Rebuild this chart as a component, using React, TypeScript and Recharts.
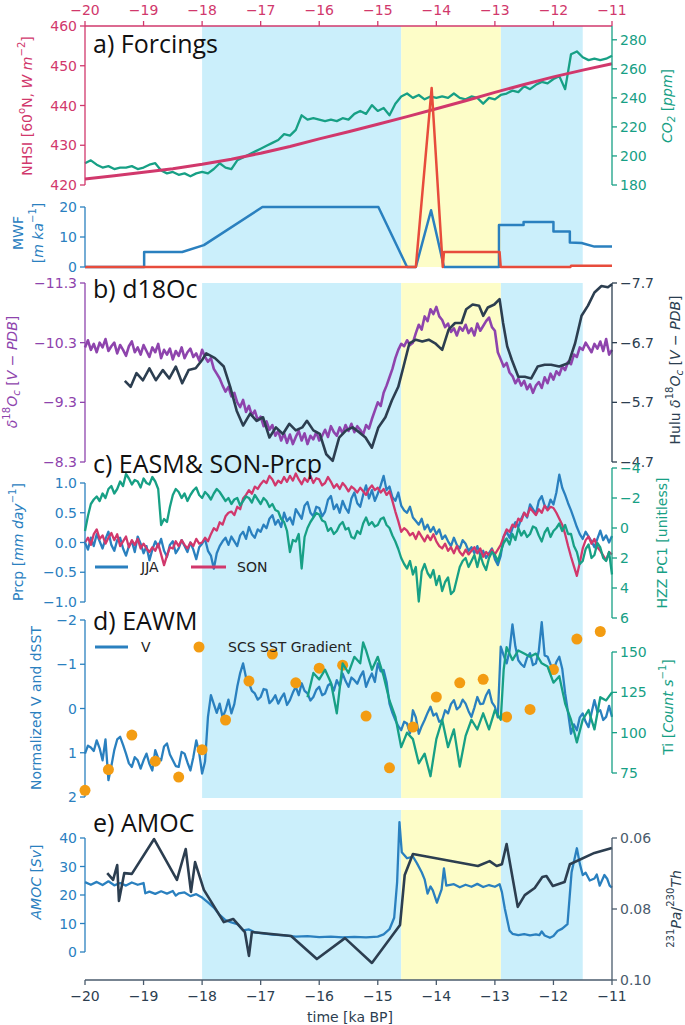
import React from 'react';
import { ComposedChart, Line, Scatter, XAxis, YAxis, ReferenceArea } from 'recharts';

const W = 685;
const PL = 85; // plot starts here
const PR = 73; // room right of the plot
const FONT = '"DejaVu Sans", sans-serif';
const TITLE_FONT = '"Open Sans", sans-serif';

const C = {
  crimson: '#d1386c',
  green: '#17a085',
  blue: '#2a80bf',
  red: '#e74c3c',
  purple: '#8e44ad',
  dark: '#2c3e50',
  orange: '#f39c12',
  blueBg: '#cbeffb',
  yellowBg: '#fdfdc8',
};

// ---- shading (ka BP) ----
const blueSpans = [[-18.0, -14.6], [-12.9, -11.5]];
const yellowSpans = [[-14.6, -12.9]];

// ---- ticks ----
const xTicks = [-20, -19, -18, -17, -16, -15, -14, -13, -12, -11];
const nhsiTicks = [420, 430, 440, 450, 460];
const co2Ticks = [180, 200, 220, 240, 260, 280];
const mwfTicks = [0, 10, 20];
const d18Ticks = [-11.3, -10.3, -9.3, -8.3];
const huluTicks = [-7.7, -6.7, -5.7, -4.7];
const prcpTicks = [-1, -0.5, 0, 0.5, 1];
const hzzTicks = [-4, -2, 0, 2, 4, 6];
const vTicks = [-2, -1, 0, 1, 2];
const tiTicks = [75, 100, 125, 150];
const amocTicks = [0, 10, 20, 30, 40];
const paTicks = [0.06, 0.08, 0.1];

// model output grids
const T91 = Array.from({ length: 91 }, (_, i) => (-200 + i) / 10);
const T181 = Array.from({ length: 181 }, (_, i) => (-400 + i) / 20);

// ---- a) forcings ----
const nhsiT = [-20, -19.5, -19, -18.5, -18, -17.5, -17, -16.5, -16, -15.5, -15, -14.5, -14, -13.5, -13, -12.5, -12, -11.5, -11];
const nhsiV = [421.5, 422.3, 423.2, 424.1, 425.2, 426.5, 428.0, 429.7, 431.6, 433.4, 435.3, 437.2, 439.2, 441.2, 443.3, 445.3, 447.2, 448.9, 450.5];

const co2V = [
  195, 197, 194, 192, 193, 191, 192, 192, 193, 191,
  192, 194, 195, 190, 188, 189, 187, 188, 186, 188,
  189, 188, 191, 195, 192, 191, 197, 199, 201, 203,
  205, 207, 209, 211, 215, 214, 218, 228, 225, 226,
  225, 224, 225, 224, 226, 225, 229, 231, 229, 235,
  231, 233, 228, 236, 241, 243, 240, 242, 239, 241,
  240, 241, 240, 243, 240, 239, 241, 240, 236, 240,
  239, 242, 243, 245, 244, 248, 246, 249, 251, 250,
  253, 255, 246, 270, 272, 268, 266, 267, 266, 267,
  269,
];

const mwfT = [-20, -18.99, -18.99, -18.34, -17.97, -16.97, -14.99, -14.5, -14.35, -14.09, -13.98, -13.87, -12.93, -12.93, -12.51, -12.51, -12.0, -12.0, -11.72, -11.72, -11.52, -11.3, -11.0];
const mwfV = [0, 0, 5, 5, 7.3, 20, 20, 0, 0, 18.9, 9.5, 0, 0, 14, 14, 15, 15, 11.8, 11.8, 8.2, 8, 6.8, 6.8];
const otherFwT = [-20, -14.35, -14.08, -13.89, -13.87, -12.92, -12.9, -11.71, -11.7, -11.0];
const otherFwV = [0, 0, 59.7, 0, 5, 5, 0, 0, 0.4, 0.4];

// ---- b) d18Oc (0.05 ka) ----
const d18V = [
  -10.22, -10.34, -10.18, -10.28, -10.14, -10.3, -10.22, -10.36, -10.16, -10.24,
  -10.3, -10.12, -10.26, -10.18, -10.08, -10.24, -10.32, -10.14, -10.22, -10.1,
  -10.26, -10.16, -10.06, -10.22, -10.14, -10.28, -10.04, -10.18, -10.1, -10.2,
  -10.02, -10.16, -10.08, -10.22, -10.04, -10.14, -10.2, -10.06, -10.12, -10.0,
  -10.18, -10.06, -9.98, -10.04, -9.86, -9.78, -9.7, -9.58, -9.48, -9.56,
  -9.4, -9.46, -9.3, -9.22, -9.34, -9.14, -9.24, -9.08, -9.16, -9.0,
  -9.06, -8.9, -8.98, -8.84, -8.92, -8.74, -8.82, -8.66, -8.78, -8.62,
  -8.76, -8.6, -8.72, -8.82, -8.66, -8.78, -8.6, -8.74, -8.68, -8.8,
  -8.66, -8.74, -8.84, -8.72, -8.9, -8.8, -8.74, -8.88, -8.78, -8.92,
  -8.82, -8.94, -8.8, -8.9, -8.84, -8.76, -8.92, -8.86, -9.02, -9.16,
  -9.3, -9.24, -9.46, -9.58, -9.72, -9.86, -10.04, -10.18, -10.28, -10.24,
  -10.34, -10.26, -10.3, -10.46, -10.6, -10.52, -10.74, -10.66, -10.86, -10.78,
  -10.9, -10.74, -10.68, -10.56, -10.62, -10.48, -10.54, -10.42, -10.56, -10.5,
  -10.6, -10.46, -10.54, -10.42, -10.62, -10.5, -10.58, -10.66, -10.72, -10.56,
  -10.5, -10.14, -10.02, -9.9, -9.96, -9.8, -9.74, -9.62, -9.7, -9.58,
  -9.66, -9.52, -9.6, -9.46, -9.58, -9.64, -9.54, -9.72, -9.62, -9.78,
  -9.68, -9.82, -9.76, -9.9, -9.84, -9.98, -9.94, -10.1, -10.06, -10.22,
  -10.18, -10.3, -10.22, -10.14, -10.28, -10.2, -10.32, -10.16, -10.36, -10.1,
  -10.18,
];

const huluT = [
  -19.32, -19.22, -19.12, -19.01, -18.9, -18.79, -18.67, -18.56, -18.45, -18.34,
  -18.23, -18.11, -18.0, -17.93, -17.78, -17.63, -17.52, -17.41, -17.3, -17.18,
  -17.07, -16.96, -16.85, -16.74, -16.62, -16.51, -16.4, -16.29, -16.21, -16.1,
  -15.99, -15.88, -15.77, -15.66, -15.54, -15.43, -15.32, -15.21, -15.1, -14.99,
  -14.87, -14.76, -14.65, -14.56, -14.46, -14.35, -14.24, -14.13, -14.02, -13.9,
  -13.79, -13.68, -13.57, -13.49, -13.38, -13.27, -13.2, -13.12, -13.01, -12.92,
  -12.86, -12.79, -12.71, -12.6, -12.49, -12.38, -12.27, -12.15, -12.04, -11.9,
  -11.74, -11.63, -11.52, -11.41, -11.3, -11.18, -11.07, -11.0,
];
const huluV = [
  -6.06, -5.96, -6.19, -6.07, -6.27, -6.07, -6.24, -6.1, -6.3, -6.02,
  -6.24, -6.27, -6.41, -6.52, -6.44, -6.3, -5.96, -5.56, -5.31, -5.51,
  -5.39, -5.45, -5.11, -5.28, -5.17, -5.34, -5.23, -5.28, -5.39, -5.23,
  -5.17, -4.83, -4.72, -5.11, -5.23, -5.28, -5.2, -5.11, -4.94, -5.28,
  -5.45, -5.73, -5.96, -6.3, -6.69, -6.75, -6.72, -6.75, -6.69, -6.58,
  -6.92, -7.03, -7.03, -7.26, -7.34, -7.32, -7.15, -7.29, -7.34, -7.43,
  -7.03, -6.64, -6.41, -6.13, -6.13, -6.1, -6.3, -6.33, -6.33, -6.3,
  -6.36, -6.69, -7.15, -7.32, -7.54, -7.65, -7.63, -7.68,
];

// ---- c) EASM & SON precipitation (0.05 ka) ----
const jjaV = [
  0.0, -0.12, 0.08, -0.06, 0.14, 0.02, -0.1, 0.06, 0.18, -0.04,
  -0.14, 0.04, 0.08, -0.1, -0.22, -0.06, 0.02, -0.16, 0.1, -0.02,
  -0.18, -0.06, -0.3, -0.12, 0.02, -0.08, 0.06, -0.14, -0.24, -0.04,
  0.02, -0.18, -0.1, 0.04, -0.06, -0.16, 0.0, -0.12, -0.28, -0.08,
  -0.02, 0.06, -0.14, -0.22, -0.44, -0.18, -0.06, 0.02, 0.08, -0.04,
  0.1, 0.02, -0.06, 0.12, 0.18, 0.06, 0.26, 0.14, 0.08, 0.22,
  0.18, 0.3, 0.24, 0.4, 0.46, 0.3, 0.38, 0.26, 0.5, 0.36,
  0.42, 0.3, 0.56, 0.48, 0.4, 0.62, 0.68, 0.5, 0.44, 0.6,
  0.58, 0.44, 0.52, 0.72, 0.78, 0.56, 0.64, 0.5, 0.7, 0.58,
  0.5, 0.74, 0.84, 0.66, 0.6, 0.8, 0.96, 0.74, 0.88, 0.7,
  0.82, 0.96, 1.12, 0.88, 0.94, 0.76, 0.7, 0.84, 0.62, 0.54,
  0.5, 0.6, 0.42, 0.36, 0.3, 0.4, 0.22, 0.3, 0.18, 0.26,
  0.14, 0.22, 0.06, 0.12, 0.02, -0.06, 0.08, -0.04, -0.1, 0.04,
  -0.02, -0.14, -0.08, -0.18, -0.06, -0.22, -0.14, -0.26, -0.18, -0.1,
  -0.28, -0.38, -0.22, 0.1, 0.18, 0.08, 0.24, 0.34, 0.26, 0.4,
  0.5, 0.42, 0.64, 0.56, 0.48, 0.7, 0.78, 0.62, 0.56, 0.72,
  0.64, 0.84, 1.14, 0.92, 0.8, 0.66, 0.54, 0.4, 0.26, 0.14,
  0.06, 0.18, 0.1, 0.02, -0.08, 0.06, 0.2, 0.04, 0.12, 0.0,
  0.11,
];
const sonV = [
  0.0, 0.08, -0.04, 0.14, 0.22, 0.06, 0.12, -0.02, 0.08, 0.16,
  0.04, 0.14, -0.06, 0.02, 0.1, -0.08, 0.04, -0.04, 0.06, -0.1,
  -0.02, -0.1, -0.16, -0.08, -0.14, -0.02, -0.2, -0.38, -0.22, -0.08,
  -0.1, 0.02, -0.06, 0.04, -0.04, -0.1, 0.0, -0.06, 0.06, -0.02,
  0.0, 0.08, 0.02, 0.14, 0.24, 0.2, 0.34, 0.3, 0.44, 0.5,
  0.52, 0.46, 0.6, 0.56, 0.74, 0.8, 0.88, 0.82, 0.94, 0.9,
  0.98, 1.04, 1.0, 1.12, 1.06, 0.96, 1.04, 1.0, 1.1, 1.02,
  1.12, 1.04, 1.16, 1.06, 0.98, 1.08, 1.02, 1.12, 1.0, 1.08,
  1.06, 0.96, 1.0, 1.1, 1.02, 0.92, 0.98, 0.9, 1.0, 0.94,
  0.86, 0.94, 0.9, 0.84, 0.92, 0.86, 0.8, 0.9, 0.96, 0.88,
  0.92, 0.84, 0.9, 0.8, 0.86, 0.7, 0.52, 0.36, 0.18, 0.24,
  0.2, 0.12, 0.16, 0.06, 0.18, 0.1, 0.02, 0.12, 0.04, 0.14,
  0.02, -0.06, -0.1, -0.02, -0.14, -0.08, -0.18, -0.06, -0.16, -0.22,
  -0.12, -0.2, -0.14, -0.08, -0.18, -0.1, -0.24, -0.16, -0.22, -0.12,
  -0.2, -0.12, -0.04, 0.1, 0.22, 0.18, 0.3, 0.26, 0.4, 0.36,
  0.5, 0.44, 0.58, 0.52, 0.46, 0.56, 0.5, 0.62, 0.54, 0.6,
  0.58, 0.5, 0.4, 0.3, 0.14, -0.06, -0.24, -0.4, -0.56, -0.34,
  -0.1, 0.04, 0.1, -0.02, 0.06, -0.08, -0.14, -0.22, -0.3, -0.16,
  -0.2,
];
const hzzV = [
  0.2, -0.8, -1.6, -1.9, -2.1, -1.8, -2.3, -2.0, -2.6, -2.8,
  -2.3, -2.6, -3.1, -2.8, -3.6, -3.3, -2.9, -3.2, -3.1, -2.7,
  -3.3, -3.0, -2.9, -3.4, -3.1, -2.6, -0.2, -0.6, -0.4, -1.4,
  -2.2, -2.6, -2.4, -2.0, -2.3, -1.8, -2.2, -2.5, -2.7, -2.2,
  -2.0, -2.4, -2.2, -1.9, -2.3, -2.6, -2.4, -2.1, -1.8, -2.0,
  -1.6, -1.9, -2.0, -1.5, -1.8, -2.1, -2.0, -1.7, -2.2, -1.9,
  -1.6, -2.0, -1.8, -1.4, -1.6, -1.2, -1.1, -0.6, -0.4, 0.2,
  1.6, 0.8, 0.9, 0.4, 2.7, 0.6, 0.0, -0.4, -0.7, -1.0,
  -0.9, -0.5, -0.4, 0.2, 0.0, 0.4, 0.2, -0.2, -0.4, 0.1,
  0.0, 0.6, 0.7, 0.2, 0.4, -0.3, -0.7, -0.2, -0.4, -0.1,
  -0.2, -0.6, -0.7, -0.2, 0.0, 0.5, 0.9, 1.4, 2.0, 2.4,
  2.7, 2.2, 3.1, 2.6, 4.9, 2.9, 2.4, 3.0, 3.3, 2.8,
  3.8, 3.2, 4.2, 3.6, 3.3, 4.4, 4.2, 3.4, 2.6, 2.2,
  2.0, 2.6, 2.2, 1.8, 2.6, 1.8, 2.4, 2.8, 2.0, 1.6,
  1.8, 2.2, 1.6, 1.0, 0.7, 1.1, 0.4, 0.8, 0.0, 0.5,
  0.2, 0.6, 0.4, -0.1, 0.0, 0.5, 0.9, 0.3, 0.0, 0.6,
  0.2, 0.0, -0.3, 0.2, -0.2, 0.4, 0.4, 1.2, 1.6, 2.4,
  2.2, 1.4, 1.1, 2.0, 1.8, 1.0, 1.3, 2.0, 2.2, 1.6,
  3.1,
];

// ---- d) EAWM ----
const vV = [
  1.02, 0.84, 0.88, 0.96, 0.72, 0.9, 1.17, 0.7, 1.62, 1.3,
  0.94, 0.7, 0.64, 0.82, 1.02, 1.24, 1.32, 1.1, 1.17, 1.36,
  1.17, 1.02, 1.25, 1.4, 0.94, 1.12, 1.17, 0.86, 0.79, 1.04,
  1.17, 1.3, 1.32, 0.98, 1.02, 1.22, 1.4, 1.1, 0.72, 1.0,
  1.47, 1.2, 0.19, -0.3, -0.1, 0.1, -0.11, 0.2, 0.04, -0.2,
  0.11, -0.1, -0.49, -0.8, -1.02, -0.7, -0.57, -0.4, -0.34, -0.2,
  -0.26, -0.44, -0.42, -0.12, -0.19, -0.3, -0.11, -0.24, -0.34, -0.08,
  -0.19, -0.36, -0.49, -0.3, -0.57, -0.4, -0.34, -0.18, -0.26, -0.42,
  -0.49, -0.3, -0.34, -0.52, -0.57, -0.4, -0.64, -0.5, -0.79, -0.62,
  -0.49, -0.7, -0.64, -0.56, -0.72, -0.84, -0.49, -0.66, -0.79, -0.6,
  -1.02, -0.84, -0.87, -0.6, -0.11, 0.1, 0.26, 0.4, 0.49, 0.3,
  0.34, 0.56, 0.04, 0.2, 0.57, 0.4, 0.26, 0.1, -0.04, 0.16,
  0.11, 0.3, 0.26, 0.04, 0.11, -0.1, -0.19, 0.02, -0.04, -0.2,
  -0.11, 0.06, 0.19, -0.02, -0.26, -0.1, -0.11, -0.3, -0.42, -0.14,
  -0.04, 0.2, -1.4, -1.2, -1.02, -1.3, -1.9, -1.4, -1.09, -1.0,
  -0.94, -1.15, -1.25, -0.98, -1.02, -1.3, -1.95, -1.2, -1.17, -1.0,
  -0.87, -1.05, -1.17, -0.9, -0.34, 0.1, 0.57, 0.36, 0.49, 0.2,
  0.11, 0.3, 0.42, 0.1, -0.19, 0.08, 0.04, 0.26, 0.19, -0.06,
  0.19,
];
const tiT = [
  -16.2, -16.1, -16.0, -15.9, -15.8, -15.7, -15.6, -15.5, -15.4, -15.3,
  -15.25, -15.2, -15.1, -15.0, -14.9, -14.8, -14.7, -14.6, -14.5, -14.4,
  -14.3, -14.2, -14.1, -14.0, -13.9, -13.8, -13.7, -13.6, -13.5, -13.4,
  -13.3, -13.2, -13.1, -13.0, -12.9, -12.85, -12.8, -12.7, -12.6, -12.5,
  -12.4, -12.3, -12.2, -12.1, -12.0, -11.9, -11.8, -11.7, -11.6, -11.5,
  -11.4, -11.3, -11.2, -11.1, -11.0,
];
const tiV = [
  122, 137, 133, 139, 131, 112, 143, 137, 147, 143,
  156, 151, 139, 147, 135, 120, 110, 91, 100, 96,
  81, 87, 73, 96, 108, 91, 102, 79, 98, 108,
  102, 112, 102, 114, 108, 139, 153, 145, 151, 149,
  147, 149, 143, 141, 131, 135, 118, 108, 94, 108,
  114, 102, 122, 120, 125,
];
const sstT = [-20, -19.6, -19.2, -18.8, -18.4, -18.0, -17.6, -17.2, -16.8, -16.4, -16.0, -15.6, -15.2, -14.8, -14.4, -14.0, -13.6, -13.2, -12.8, -12.4, -12.0, -11.6, -11.2];
const sstV = [1.85, 1.38, 0.6, 1.19, 1.55, 0.93, 0.26, -0.62, -1.23, -0.58, -0.91, -0.98, 0.17, 1.34, 0.42, -0.26, -0.58, -0.66, 0.19, 0.02, -0.88, -1.57, -1.74];

// ---- e) AMOC ----
const amocT = [
  -20.0, -19.9, -19.8, -19.7, -19.6, -19.5, -19.4, -19.3, -19.2, -19.1,
  -19.0, -18.97, -18.9, -18.8, -18.7, -18.6, -18.5, -18.45, -18.4, -18.3,
  -18.2, -18.1, -18.0, -17.9, -17.8, -17.7, -17.6, -17.5, -17.4, -17.3,
  -17.2, -17.1, -17.0, -16.8, -16.6, -16.4, -16.2, -16.0, -15.8, -15.6,
  -15.4, -15.2, -15.0, -14.9, -14.8, -14.72, -14.67, -14.63, -14.59, -14.5,
  -14.4, -14.33, -14.25, -14.2, -14.15, -14.1, -14.06, -13.99, -13.91, -13.87,
  -13.83, -13.7, -13.6, -13.5, -13.4, -13.3, -13.2, -13.1, -13.0, -12.92,
  -12.88, -12.83, -12.75, -12.7, -12.6, -12.5, -12.4, -12.3, -12.24, -12.2,
  -12.15, -12.06, -12.0, -11.93, -11.85, -11.76, -11.69, -11.6, -11.55, -11.5,
  -11.45, -11.38, -11.3, -11.26, -11.21, -11.13, -11.08, -11.04, -11.0,
];
const amocV = [
  24.5, 23.6, 24.6, 23.5, 24.8, 23.4, 24.2, 23.3, 24.4, 23.6,
  24.2, 20.6, 21.2, 20.4, 21.3, 20.5, 21.4, 19.8, 20.6, 20.9,
  19.6, 20.3, 19.1, 17.4, 15.6, 13.0, 11.2, 10.4, 9.8, 7.6,
  7.9, 6.9, 6.6, 6.1, 5.8, 5.4, 5.6, 5.2, 5.4, 5.1,
  5.3, 5.1, 5.4, 6.2, 8.0, 12.0, 24.4, 45.6, 35.0, 32.9,
  33.5, 31.1, 28.0, 25.5, 20.5, 23.0, 21.6, 17.3, 22.0, 29.3,
  23.3, 23.8, 22.7, 23.6, 22.9, 23.9, 22.8, 23.5, 22.9, 23.8,
  21.0, 15.2, 7.5, 6.4, 5.9, 6.3, 5.8, 6.2, 5.9, 7.2,
  5.8, 5.0, 5.6, 7.4, 8.2, 9.8, 28.0, 36.4, 31.0, 27.0,
  27.8, 25.1, 25.8, 27.2, 23.3, 27.0, 25.6, 23.3, 22.6,
];
const paT = [
  -19.62, -19.52, -19.45, -19.42, -19.33, -19.2, -18.82, -18.43, -18.28, -18.19,
  -18.12, -17.97, -17.63, -17.47, -17.27, -17.2, -17.15, -16.48, -16.04, -15.56,
  -15.1, -14.62, -14.54, -14.4, -13.29, -13.09, -12.97, -12.88, -12.8, -12.61,
  -12.49, -12.32, -12.19, -12.12, -12.01, -11.81, -11.72, -11.3, -11.0,
];
const paV = [
  0.0699, 0.0718, 0.0676, 0.0777, 0.0699, 0.0701, 0.0603, 0.0718, 0.0631, 0.0752,
  0.0668, 0.0746, 0.0837, 0.0828, 0.0865, 0.0932, 0.0865, 0.0876, 0.0941, 0.0882,
  0.0952, 0.0845, 0.0704, 0.0645, 0.0679, 0.0665, 0.0679, 0.0674, 0.0617, 0.0794,
  0.0761, 0.0741, 0.071, 0.0707, 0.0735, 0.0724, 0.0674, 0.0642, 0.0628,
];

const zip = (ts: number[], vs: number[]) => ts.map((t, i) => ({ t, v: vs[i] }));

const nhsi = zip(nhsiT, nhsiV);
const co2 = zip(T91, co2V);
const mwf = zip(mwfT, mwfV);
const otherFw = zip(otherFwT, otherFwV);
const d18 = zip(T181, d18V);
const hulu = zip(huluT, huluV);
const jja = zip(T181, jjaV);
const son = zip(T181, sonV);
const hzz = zip(T181, hzzV);
const vIdx = zip(T181, vV);
const ti = zip(tiT, tiV);
const sst = zip(sstT, sstV);
const amoc = zip(amocT, amocV);
const pa = zip(paT, paV);

const minus = (s: string) => s.replace('-', '\u2212');
const fInt = (v: number) => minus(String(v));
const f1 = (v: number) => minus(v.toFixed(1));
const f2 = (v: number) => minus(v.toFixed(2));

function Tick(props: any) {
  const { x, y, payload, textAnchor, clr, fmt, pos } = props;
  const dy = pos === 'bottom' ? '0.76em' : pos === 'top' ? '0' : '0.36em';
  return (
    <text x={x} y={y} dy={dy} textAnchor={textAnchor} fill={clr} fontSize={14} fontFamily={FONT}>
      {fmt(payload.value)}
    </text>
  );
}

function Layer({ top, bottom, left, right, xTop = 0, xBot = 0, children }: any) {
  const h = bottom - top + xTop + xBot;
  return (
    <div style={{ position: 'absolute', left: 0, top: top - xTop }}>
      <ComposedChart
        width={W}
        height={h}
        margin={{ top: 0, bottom: 0, left: left ? 0 : PL, right: right ? 0 : PR }}
      >
        {children}
      </ComposedChart>
    </div>
  );
}

const hiddenX = <XAxis type="number" dataKey="t" domain={[-20, -11]} allowDataOverflow hide />;
const hiddenY = <YAxis yAxisId="h" type="number" domain={[0, 1]} allowDataOverflow hide />;

function yAx(id: string, side: 'left' | 'right', clr: string, domain: number[], ticks: number[], fmt: (v: number) => string, reversed = false) {
  return (
    <YAxis
      yAxisId={id}
      orientation={side}
      type="number"
      domain={domain}
      allowDataOverflow
      reversed={reversed}
      ticks={ticks}
      interval={0}
      width={side === 'left' ? PL : PR}
      stroke={clr}
      axisLine={{ stroke: clr, strokeWidth: 1.3 }}
      tickLine={{ stroke: clr, strokeWidth: 1.3 }}
      tickSize={5}
      tickMargin={3}
      tick={<Tick clr={clr} fmt={fmt} pos="side" />}
    />
  );
}

function shading() {
  return [
    ...blueSpans.map(([a, b], i) => (
      <ReferenceArea key={'b' + i} yAxisId="h" x1={a} x2={b} fill={C.blueBg} fillOpacity={1} stroke="none" />
    )),
    ...yellowSpans.map(([a, b], i) => (
      <ReferenceArea key={'y' + i} yAxisId="h" x1={a} x2={b} fill={C.yellowBg} fillOpacity={1} stroke="none" />
    )),
  ];
}

function line(data: any[], id: string, clr: string, w = 2.3) {
  return (
    <Line
      data={data}
      dataKey="v"
      yAxisId={id}
      type="linear"
      stroke={clr}
      strokeWidth={w}
      dot={false}
      activeDot={false}
      isAnimationActive={false}
      strokeLinejoin="round"
    />
  );
}

type Seg = { s: string; it?: boolean; up?: boolean; dn?: boolean };

function Rich({ segs, size }: { segs: Seg[]; size: number }) {
  let cur = 0;
  return (
    <>
      {segs.map((g, i) => {
        const target = g.up ? -size * 0.4 : g.dn ? size * 0.25 : 0;
        const dy = target - cur;
        cur = target;
        return (
          <tspan key={i} dy={dy} fontStyle={g.it ? 'italic' : undefined} fontSize={g.up || g.dn ? size * 0.72 : size}>
            {g.s}
          </tspan>
        );
      })}
    </>
  );
}

function VLabel({ x, y, clr, segs, size = 14 }: { x: number; y: number; clr: string; segs: Seg[]; size?: number }) {
  return (
    <text
      transform={`translate(${x},${y}) rotate(-90)`}
      textAnchor="middle"
      dominantBaseline="central"
      fill={clr}
      fontFamily={FONT}
      fontSize={size}
      style={{ whiteSpace: 'pre' }}
    >
      <Rich segs={segs} size={size} />
    </text>
  );
}

function Title({ y, children }: any) {
  return (
    <text x={93} y={y} fontFamily={TITLE_FONT} fontSize={25} fill="#111">
      {children}
    </text>
  );
}

function Overlay() {
  const d18Label: Seg[] = [{ s: 'δ', it: true }, { s: '18', up: true }, { s: 'O', it: true }, { s: 'c', it: true, dn: true }, { s: ' [' }, { s: 'V − PDB', it: true }, { s: ']' }];
  return (
    <svg width={W} height={1025} style={{ position: 'absolute', left: 0, top: 0, pointerEvents: 'none' }}>
      <Title y={53}>a) Forcings</Title>
      <Title y={298}>b) d18Oc</Title>
      <Title y={473}>c) EASM&amp; SON-Prcp</Title>
      <Title y={630}>d) EAWM</Title>
      <Title y={832}>e) AMOC</Title>

      <VLabel x={27} y={106} clr={C.crimson} segs={[{ s: 'NHSI [60' }, { s: 'o', up: true }, { s: 'N, ' }, { s: 'W m', it: true }, { s: '−2', up: true }, { s: ']' }]} />
      <VLabel x={667} y={106} clr={C.green} segs={[{ s: 'CO', it: true }, { s: '2', it: true, dn: true }, { s: ' [' }, { s: 'ppm', it: true }, { s: ']' }]} />
      <VLabel x={18} y={233} clr={C.blue} segs={[{ s: 'MWF' }]} />
      <VLabel x={38} y={233} clr={C.blue} segs={[{ s: '[' }, { s: 'm ka', it: true }, { s: '−1', up: true }, { s: ']' }]} />
      <VLabel x={12} y={372} clr={C.purple} segs={d18Label} />
      <VLabel x={675} y={370} clr={C.dark} segs={[{ s: 'Hulu ' }, ...d18Label]} />
      <VLabel x={18} y={542} clr={C.blue} segs={[{ s: 'Prcp [' }, { s: 'mm day', it: true }, { s: '−1', up: true }, { s: ']' }]} />
      <VLabel x={662} y={543} clr={C.green} segs={[{ s: 'HZZ PC1 [unitless]' }]} />
      <VLabel x={36} y={708} clr={C.blue} segs={[{ s: 'Normalized V and dSST' }]} />
      <VLabel x={668} y={707} clr={C.green} segs={[{ s: 'Ti [' }, { s: 'Count s', it: true }, { s: '−1', up: true }, { s: ']' }]} />
      <VLabel x={36} y={882} clr={C.blue} segs={[{ s: 'AMOC', it: true }, { s: ' [' }, { s: 'Sv', it: true }, { s: ']' }]} />
      <VLabel x={676} y={909} clr={C.dark} segs={[{ s: '231', up: true }, { s: 'Pa', it: true }, { s: '/' }, { s: '230', up: true }, { s: 'Th', it: true }]} />
      <text x={350} y={1022} textAnchor="middle" fill={C.dark} fontFamily={FONT} fontSize={14}>
        time [ka BP]
      </text>

      {/* legend c */}
      <line x1={95} x2={128} y1={567} y2={567} stroke={C.blue} strokeWidth={3} />
      <text x={141} y={572} fontFamily={FONT} fontSize={14} fill="#222">JJA</text>
      <line x1={191} x2={226} y1={567} y2={567} stroke={C.crimson} strokeWidth={3} />
      <text x={237} y={572} fontFamily={FONT} fontSize={14} fill="#222">SON</text>

      {/* legend d */}
      <line x1={95} x2={128} y1={647} y2={647} stroke={C.blue} strokeWidth={3} />
      <text x={141} y={652} fontFamily={FONT} fontSize={14} fill="#222">V</text>
      <circle cx={199} cy={647} r={5.5} fill={C.orange} />
      <text x={228} y={652} fontFamily={FONT} fontSize={14} fill="#222">SCS SST Gradient</text>
    </svg>
  );
}

export default function App() {
  return (
    <div style={{ position: 'absolute', left: 0, top: 0, width: W, height: 1025, background: '#fff', overflow: 'hidden' }}>
      <style>{`.recharts-wrapper [clip-path]{clip-path:none !important}.recharts-surface{overflow:visible}`}</style>

      {/* shading behind a) and MWF */}
      <Layer top={26} bottom={267}>
        {hiddenX}
        {hiddenY}
        {shading()}
      </Layer>

      {/* a) minor ticks */}
      <Layer top={26} bottom={185} right xTop={26}>
        <XAxis
          type="number"
          dataKey="t"
          orientation="top"
          height={26}
          domain={[-20, -11]}
          allowDataOverflow
          ticks={T91.filter((_, i) => i % 2 === 0)}
          interval={0}
          tick={false}
          axisLine={false}
          tickLine={{ stroke: C.crimson, strokeWidth: 1 }}
          tickSize={3}
        />
        <YAxis
          yAxisId="m"
          orientation="right"
          type="number"
          domain={[180, 289.5]}
          allowDataOverflow
          ticks={co2V.slice(0, 22).map((_, i) => 180 + i * 5)}
          interval={0}
          width={PR}
          tick={false}
          axisLine={false}
          tickLine={{ stroke: C.green, strokeWidth: 1 }}
          tickSize={3}
        />
      </Layer>

      {/* a) NHSI and CO2 */}
      <Layer top={26} bottom={185} left right xTop={26}>
        <XAxis
          type="number"
          dataKey="t"
          orientation="top"
          height={26}
          domain={[-20, -11]}
          allowDataOverflow
          ticks={xTicks}
          interval={0}
          stroke={C.crimson}
          axisLine={{ stroke: C.crimson, strokeWidth: 1.3 }}
          tickLine={{ stroke: C.crimson, strokeWidth: 1.3 }}
          tickSize={5}
          tickMargin={6}
          tick={<Tick clr={C.crimson} fmt={fInt} pos="top" />}
        />
        {yAx('l', 'left', C.crimson, [420, 460], nhsiTicks, fInt)}
        {yAx('r', 'right', C.green, [180, 289.5], co2Ticks, fInt)}
        {line(co2, 'r', C.green, 2.3)}
        {line(nhsi, 'l', C.crimson, 3)}
      </Layer>

      {/* MWF */}
      <Layer top={207} bottom={267} left>
        {hiddenX}
        {yAx('l', 'left', C.blue, [0, 20], mwfTicks, fInt)}
        {line(mwf, 'l', C.blue, 2.5)}
        {line(otherFw, 'l', C.red, 2.5)}
      </Layer>

      {/* shading behind b), c), d) */}
      <Layer top={283} bottom={798}>
        {hiddenX}
        {hiddenY}
        {shading()}
      </Layer>

      {/* b) d18Oc */}
      <Layer top={283} bottom={462} left right>
        {hiddenX}
        {yAx('l', 'left', C.purple, [-11.3, -8.3], d18Ticks, f1, true)}
        {yAx('r', 'right', C.dark, [-7.7, -4.7], huluTicks, f1, true)}
        {line(d18, 'l', C.purple, 2.6)}
        {line(hulu, 'r', C.dark, 2.6)}
      </Layer>

      {/* c) precipitation */}
      <Layer top={483} bottom={602} left>
        {hiddenX}
        {yAx('l', 'left', C.blue, [-1, 1], prcpTicks, f1)}
        {line(jja, 'l', C.blue)}
        {line(son, 'l', C.crimson)}
      </Layer>
      <Layer top={468} bottom={618} right>
        {hiddenX}
        {yAx('r', 'right', C.green, [-4, 6], hzzTicks, fInt, true)}
        {line(hzz, 'r', C.green)}
      </Layer>

      {/* d) EAWM */}
      <Layer top={620} bottom={797} left>
        {hiddenX}
        {yAx('l', 'left', C.blue, [-2, 2], vTicks, fInt, true)}
        {line(vIdx, 'l', C.blue)}
        <Scatter
          data={sst}
          dataKey="v"
          yAxisId="l"
          isAnimationActive={false}
          shape={(p: any) => <circle cx={p.cx} cy={p.cy} r={5.5} fill={C.orange} />}
        />
      </Layer>
      <Layer top={652} bottom={773} right>
        {hiddenX}
        {yAx('r', 'right', C.green, [75, 150], tiTicks, fInt)}
        {line(ti, 'r', C.green)}
      </Layer>

      {/* shading behind e) */}
      <Layer top={810} bottom={980}>
        {hiddenX}
        {hiddenY}
        {shading()}
      </Layer>

      {/* e) AMOC */}
      <Layer top={838} bottom={952} left>
        {hiddenX}
        {yAx('l', 'left', C.blue, [0, 40], amocTicks, fInt)}
        {line(amoc, 'l', C.blue)}
      </Layer>
      <Layer top={838} bottom={980} right xBot={30}>
        <XAxis
          type="number"
          dataKey="t"
          orientation="bottom"
          height={30}
          domain={[-20, -11]}
          allowDataOverflow
          ticks={xTicks}
          interval={0}
          stroke={C.dark}
          axisLine={{ stroke: '#4a5b6c', strokeWidth: 1.3 }}
          tickLine={{ stroke: '#4a5b6c', strokeWidth: 1.3 }}
          tickSize={5}
          tickMargin={5}
          tick={<Tick clr={C.dark} fmt={fInt} pos="bottom" />}
        />
        {yAx('r', 'right', '#4a5b6c', [0.06, 0.1], paTicks, f2, true)}
        {line(pa, 'r', C.dark, 2.6)}
      </Layer>

      <Overlay />
    </div>
  );
}
